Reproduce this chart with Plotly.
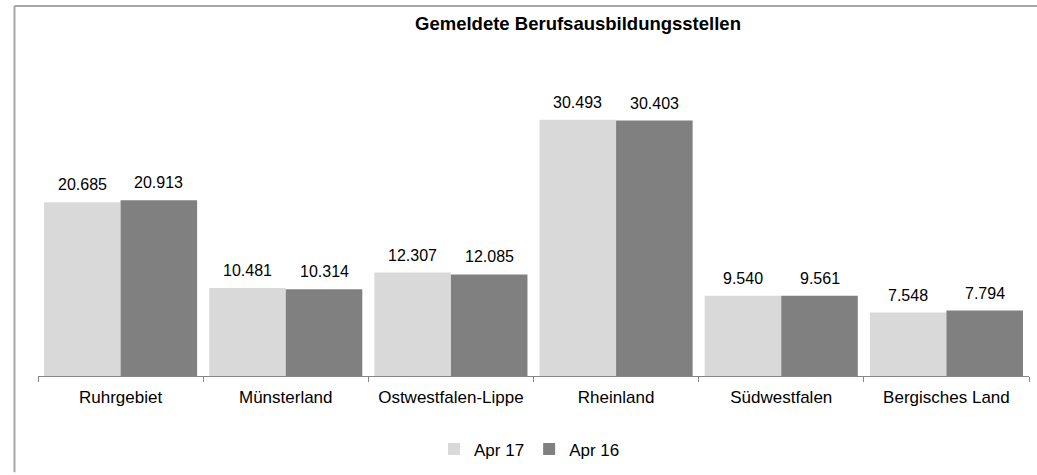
import plotly.graph_objects as go

categories = ["Ruhrgebiet", "Münsterland", "Ostwestfalen-Lippe", "Rheinland", "Südwestfalen", "Bergisches Land"]
apr17 = [20685, 10481, 12307, 30493, 9540, 7548]
apr16 = [20913, 10314, 12085, 30403, 9561, 7794]
series_names = ["Apr 17", "Apr 16"]
title_text = "Gemeldete Berufsausbildungsstellen"

W, H = 1037, 475
ml, mr, mt, mb = 38, 8, 82, 97
pw = W - ml - mr
ph = H - mt - mb
bargap = 0.073

FAM = "Liberation Sans, Arial, sans-serif"
font = dict(family=FAM, size=17, color="#000000")
label_font = dict(family=FAM, size=16, color="#000000")

fig = go.Figure()
fig.add_trace(go.Bar(x=categories, y=apr17, name=series_names[0],
                     marker=dict(color="#D9D9D9", line=dict(width=0))))
fig.add_trace(go.Bar(x=categories, y=apr16, name=series_names[1],
                     marker=dict(color="#808080", line=dict(width=0))))

# value labels above bars
cat_px = pw / len(categories)
bar_px = cat_px * (1 - bargap) / 2
for vals, sign in ((apr17, -1), (apr16, 1)):
    for c, v in zip(categories, vals):
        txt = f"{v:,}".replace(",", ".")
        fig.add_annotation(x=c, y=v, xref="x", yref="y", text=txt, showarrow=False,
                           xanchor="center", yanchor="bottom", xshift=sign * bar_px / 2,
                           yshift=7, font=label_font)

def px_to_paper_x(px):
    return (px - ml) / pw

def px_to_paper_y(py):
    return (H - mb - py) / ph

border = "#A6A6A6"
fig.add_shape(type="line", xref="paper", yref="paper",
              x0=px_to_paper_x(14.5), x1=px_to_paper_x(W),
              y0=px_to_paper_y(5.5), y1=px_to_paper_y(5.5),
              line=dict(color=border, width=2))
fig.add_shape(type="line", xref="paper", yref="paper",
              x0=px_to_paper_x(14.5), x1=px_to_paper_x(14.5),
              y0=px_to_paper_y(5.5), y1=px_to_paper_y(H),
              line=dict(color=border, width=2))

fig.update_layout(
    width=W, height=H,
    margin=dict(l=ml, r=mr, t=mt, b=mb, pad=0),
    paper_bgcolor="white", plot_bgcolor="white",
    font=font,
    barmode="group", bargap=bargap, bargroupgap=0,
    title=dict(text="<b>" + title_text + "</b>", x=578 / W, xanchor="center", xref="container",
               y=1 - 24 / H, yanchor="middle", yref="container",
               font=dict(family=FAM, size=18.5, color="#000000")),
    showlegend=True,
    legend=dict(orientation="h", x=0.496, xanchor="center", y=px_to_paper_y(452), yanchor="middle",
                font=font, itemwidth=30, traceorder="normal", itemclick=False),
    xaxis=dict(showline=True, linecolor="#868686", linewidth=1, ticks="outside", tickson="boundaries",
               ticklen=5, tickcolor="#868686", showgrid=False, tickfont=font, fixedrange=True,
               ticklabelstandoff=6),
    yaxis=dict(range=[0, 35000], visible=False, showgrid=False, fixedrange=True),
)

fig.write_html("out.html", config={"displayModeBar": False},
               post_script="document.body.style.margin='0';document.body.style.overflow='hidden';"
                           "document.documentElement.style.overflow='hidden';")
